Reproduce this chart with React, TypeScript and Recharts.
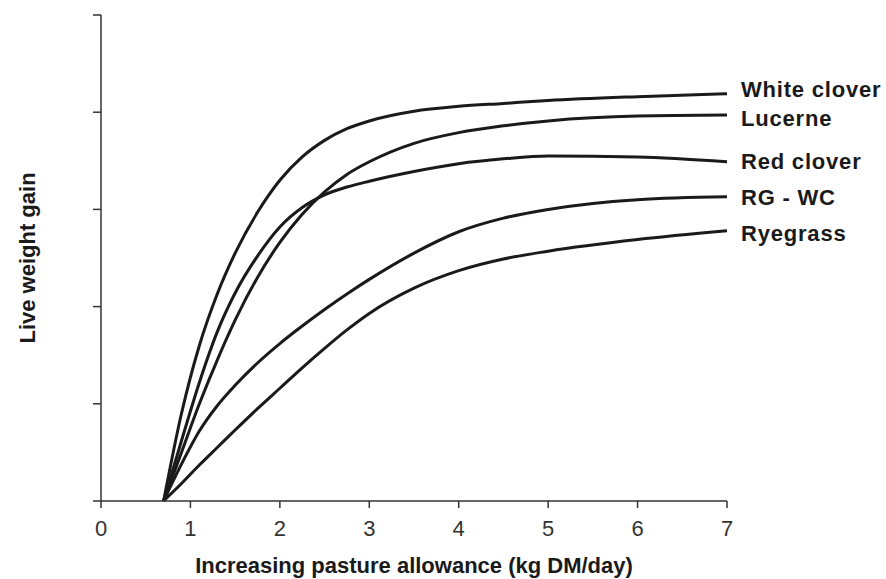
import { LineChart, Line, XAxis, YAxis, Label } from 'recharts';

const allowance = [0.7, 0.9, 1.1, 1.3, 1.5, 1.75, 2, 2.25, 2.5, 2.75, 3, 3.5, 4, 4.5, 5, 6, 7];

const whiteClover = [0, 0.9, 1.6, 2.13, 2.55, 2.97, 3.3, 3.54, 3.71, 3.83, 3.91, 4.01, 4.06, 4.09, 4.12, 4.16, 4.19];
const lucerne = [0, 0.5, 1.0, 1.45, 1.86, 2.3, 2.66, 2.95, 3.18, 3.36, 3.49, 3.68, 3.79, 3.86, 3.91, 3.96, 3.97];
const redClover = [0, 0.62, 1.22, 1.74, 2.14, 2.52, 2.82, 3.02, 3.15, 3.23, 3.29, 3.39, 3.47, 3.52, 3.55, 3.54, 3.49];
const rgWc = [0, 0.38, 0.72, 0.98, 1.19, 1.42, 1.62, 1.8, 1.97, 2.13, 2.28, 2.55, 2.77, 2.91, 3.0, 3.1, 3.13];
const ryegrass = [0, 0.18, 0.37, 0.55, 0.73, 0.95, 1.16, 1.37, 1.57, 1.76, 1.93, 2.19, 2.37, 2.49, 2.57, 2.69, 2.78];

const seriesNames = ['White clover', 'Lucerne', 'Red clover', 'RG - WC', 'Ryegrass'];
const seriesKeys = ['wc', 'lu', 'rc', 'rgwc', 'rg'];
const xTicks = [0, 1, 2, 3, 4, 5, 6, 7];
const yTicks = [0, 1, 2, 3, 4, 5];

const data = allowance.map((x, i) => ({
  x,
  wc: whiteClover[i],
  lu: lucerne[i],
  rc: redClover[i],
  rgwc: rgWc[i],
  rg: ryegrass[i],
}));

// small vertical nudges so the end labels sit like the original
const labelNudge: Record<string, number> = { wc: -4.5, lu: 3, rc: 0, rgwc: 1, rg: 2.5 };

const FONT = '"Liberation Sans", Arial, sans-serif';
const INK = '#1a1a1a';

function endLabel(key: string, name: string) {
  return (props: any) => {
    if (props.index !== allowance.length - 1) return null;
    return (
      <text
        x={props.x + 14}
        y={props.y + labelNudge[key]}
        dy="0.35em"
        fontFamily={FONT}
        fontWeight="bold"
        fontSize={22}
        letterSpacing={0.8}
        fill={INK}
      >
        {name}
      </text>
    );
  };
}

export default function App() {
  return (
    <div style={{ position: 'absolute', left: 0, top: 0, background: '#fff' }}>
      <LineChart
        width={886}
        height={579}
        data={data}
        margin={{ top: 15, right: 159, bottom: 0, left: 0 }}
      >
        <XAxis
          dataKey="x"
          type="number"
          domain={[0, 7]}
          ticks={xTicks}
          height={78}
          stroke="#333"
          strokeWidth={1.5}
          tickSize={7}
          tickMargin={12}
          tick={{ fill: '#333', fontSize: 22, fontFamily: FONT }}
        >
          <Label
            value="Increasing pasture allowance (kg DM/day)"
            position="insideBottom"
            offset={6}
            style={{ fontFamily: FONT, fontWeight: 'bold', fontSize: 22, fill: INK }}
          />
        </XAxis>
        <YAxis
          type="number"
          domain={[0, 5]}
          ticks={yTicks}
          width={101}
          stroke="#333"
          strokeWidth={1.5}
          tickSize={8}
          tickFormatter={() => ''}
        >
          <Label
            value="Live weight gain"
            angle={-90}
            position="insideLeft"
            offset={27}
            style={{ fontFamily: FONT, fontWeight: 'bold', fontSize: 22, fill: INK, textAnchor: 'middle' }}
          />
        </YAxis>
        {seriesKeys.map((k, i) => (
          <Line
            key={k}
            dataKey={k}
            type="monotone"
            stroke={INK}
            strokeWidth={3}
            dot={false}
            activeDot={false}
            isAnimationActive={false}
            label={endLabel(k, seriesNames[i])}
          />
        ))}
      </LineChart>
    </div>
  );
}
